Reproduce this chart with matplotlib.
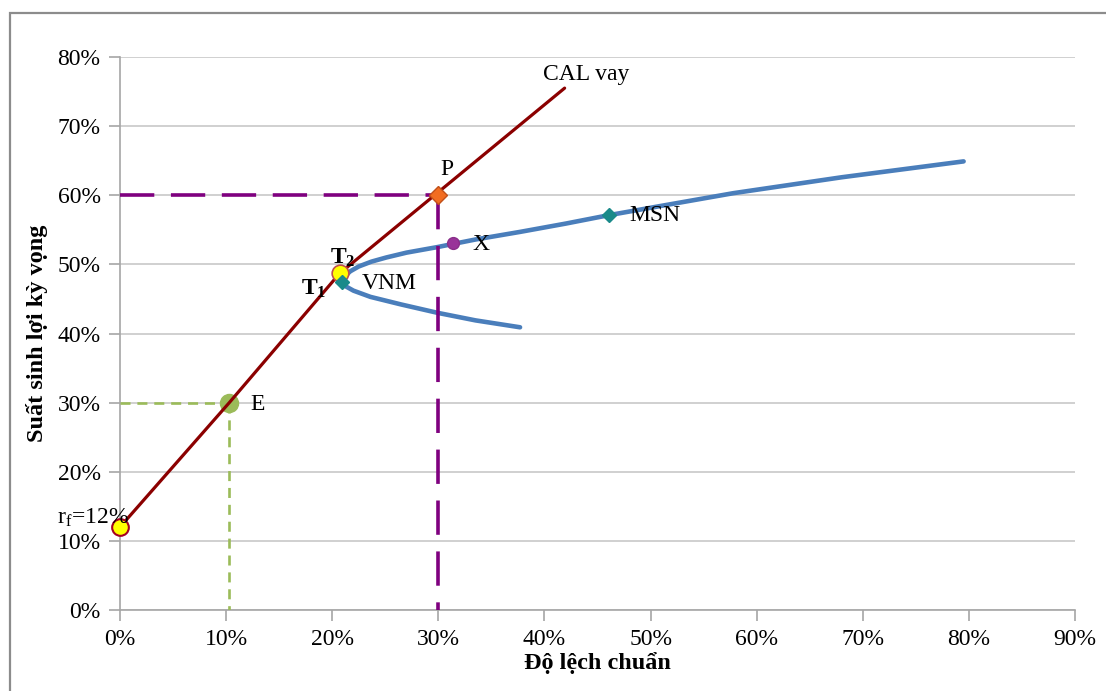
import matplotlib
matplotlib.use("Agg")
import matplotlib.pyplot as plt
from matplotlib.patches import Rectangle
from matplotlib.ticker import FuncFormatter, MultipleLocator

# values (percent)
frontier_x = [37.7, 33.5, 29.9, 26.5, 23.6, 22.0, 21.3, 21.0, 21.2, 21.7, 22.5, 23.7, 25.1, 27.0,
              29.9, 33.5, 37.7, 42.0, 46.0, 51.5, 57.8, 68.0, 79.5]
frontier_y = [40.9, 41.9, 43.0, 44.2, 45.3, 46.2, 46.8, 47.5, 48.3, 49.0, 49.7, 50.4, 51.0, 51.7,
              52.5, 53.6, 54.7, 55.9, 57.1, 58.6, 60.3, 62.6, 64.9]

lend_x = [0.0, 10.3, 20.7]
lend_y = [12.0, 30.0, 48.7]
borrow_x = [20.7, 41.9]
borrow_y = [48.7, 75.5]

rf = (0.0, 12.0)
e_pt = (10.3, 30.0)
p_pt = (30.0, 60.0)
x_pt = (31.4, 53.1)
vnm = (20.9, 47.5)
msn = (46.1, 57.1)
t2 = (20.7, 48.7)

plt.rcParams["font.family"] = ["Liberation Serif", "DejaVu Serif"]
plt.rcParams["mathtext.fontset"] = "custom"
plt.rcParams["mathtext.rm"] = "Liberation Serif"
plt.rcParams["mathtext.it"] = "Liberation Serif:italic"
plt.rcParams["mathtext.bf"] = "Liberation Serif:bold"

fig = plt.figure(figsize=(11.06, 6.91), dpi=100)
ax = fig.add_axes([0.1085, 0.1172, 0.8635, 0.8003])

fig.patches.append(Rectangle((10 / 1106, -0.1), 1.2, 1 - 13 / 691 + 0.1, transform=fig.transFigure,
                             fill=False, edgecolor="#8c8c8c", linewidth=1.6, zorder=0))

grey = "#a6a6a6"
purple = "#7f007f"
green = "#9bbb59"

# dashed guides
l1, = ax.plot([0, p_pt[0]], [p_pt[1], p_pt[1]], color=purple, lw=2.6, zorder=3)
l2, = ax.plot([p_pt[0], p_pt[0]], [p_pt[1], 0], color=purple, lw=2.6, zorder=3)
for ln in (l1, l2):
    ln.set_dashes((9.5, 4.6))
g1, = ax.plot([0, e_pt[0]], [e_pt[1], e_pt[1]], color=green, lw=1.9, zorder=3)
g2, = ax.plot([e_pt[0], e_pt[0]], [e_pt[1], 0], color=green, lw=1.9, zorder=3)
for ln in (g1, g2):
    ln.set_dashes((3.8, 2.6))

# frontier
ax.plot(frontier_x, frontier_y, color="#4a7ebb", lw=3.3, solid_capstyle="round",
        solid_joinstyle="round", zorder=2)

# CAL lines
ax.plot(lend_x, lend_y, color="#8b0000", lw=2.3, zorder=4)
ax.plot(borrow_x, borrow_y, color="#8b0000", lw=2.3, solid_capstyle="round", zorder=4)

# markers
ax.plot(*e_pt, "o", ms=13, color=green, mec=green, zorder=3.5)
ax.plot(*rf, "o", ms=12, color="#ffff00", mec="#a50021", mew=1.5, zorder=6, clip_on=False)
ax.plot(*t2, "o", ms=12, color="#ffff00", mec="#c0504d", mew=1.2, zorder=6)
ax.plot(*vnm, "D", ms=7, color="#1a8a8a", zorder=7)
ax.plot(*msn, "D", ms=7, color="#1a8a8a", zorder=7)
ax.plot(*x_pt, "o", ms=8.5, color="#993399", mec="#8a2e8a", zorder=7)
ax.plot(*p_pt, "D", ms=9, color="#f26d21", mec="#c0501a", zorder=7)

fs = 17
ax.text(39.9, 77.4, "CAL vay", fontsize=fs, va="center", ha="left")
ax.text(30.2, 63.7, "P", fontsize=fs, va="center", ha="left")
ax.text(33.2, 52.9, "X", fontsize=fs, va="center", ha="left")
ax.text(48.0, 57.0, "MSN", fontsize=fs, va="center", ha="left")
ax.text(22.8, 47.2, "VNM", fontsize=fs, va="center", ha="left")
ax.text(17.1, 46.4, r"$\mathbf{T}_\mathbf{1}$", fontsize=fs, va="center", ha="left", zorder=8)
ax.text(19.8, 50.9, r"$\mathbf{T}_\mathbf{2}$", fontsize=fs, va="center", ha="left", zorder=8)
ax.text(12.3, 29.7, "E", fontsize=fs, va="center", ha="left")
ax.text(-5.9, 13.3, r"r$_\mathrm{f}$=12%", fontsize=fs, va="center", ha="left", zorder=8)

ax.set_xlim(0, 90)
ax.set_ylim(0, 80)
ax.xaxis.set_major_locator(MultipleLocator(10))
ax.yaxis.set_major_locator(MultipleLocator(10))
pct = FuncFormatter(lambda v, _: f"{v:.0f}%")
ax.xaxis.set_major_formatter(pct)
ax.yaxis.set_major_formatter(pct)
ax.tick_params(labelsize=fs, color=grey, length=8, width=1.2, pad=6)
ax.grid(axis="y", color="#c8c8c8", lw=1.2)
ax.set_axisbelow(True)
for s in ("top", "right"):
    ax.spines[s].set_visible(False)
for s in ("left", "bottom"):
    ax.spines[s].set_color(grey)
    ax.spines[s].set_linewidth(1.2)

ax.set_xlabel("Độ lệch chuẩn", fontsize=17.5, fontweight="bold", labelpad=1)
ax.set_ylabel("Suất sinh lợi kỳ vọng", fontsize=17.5, fontweight="bold", labelpad=7)

fig.savefig("out.png", dpi=100)
